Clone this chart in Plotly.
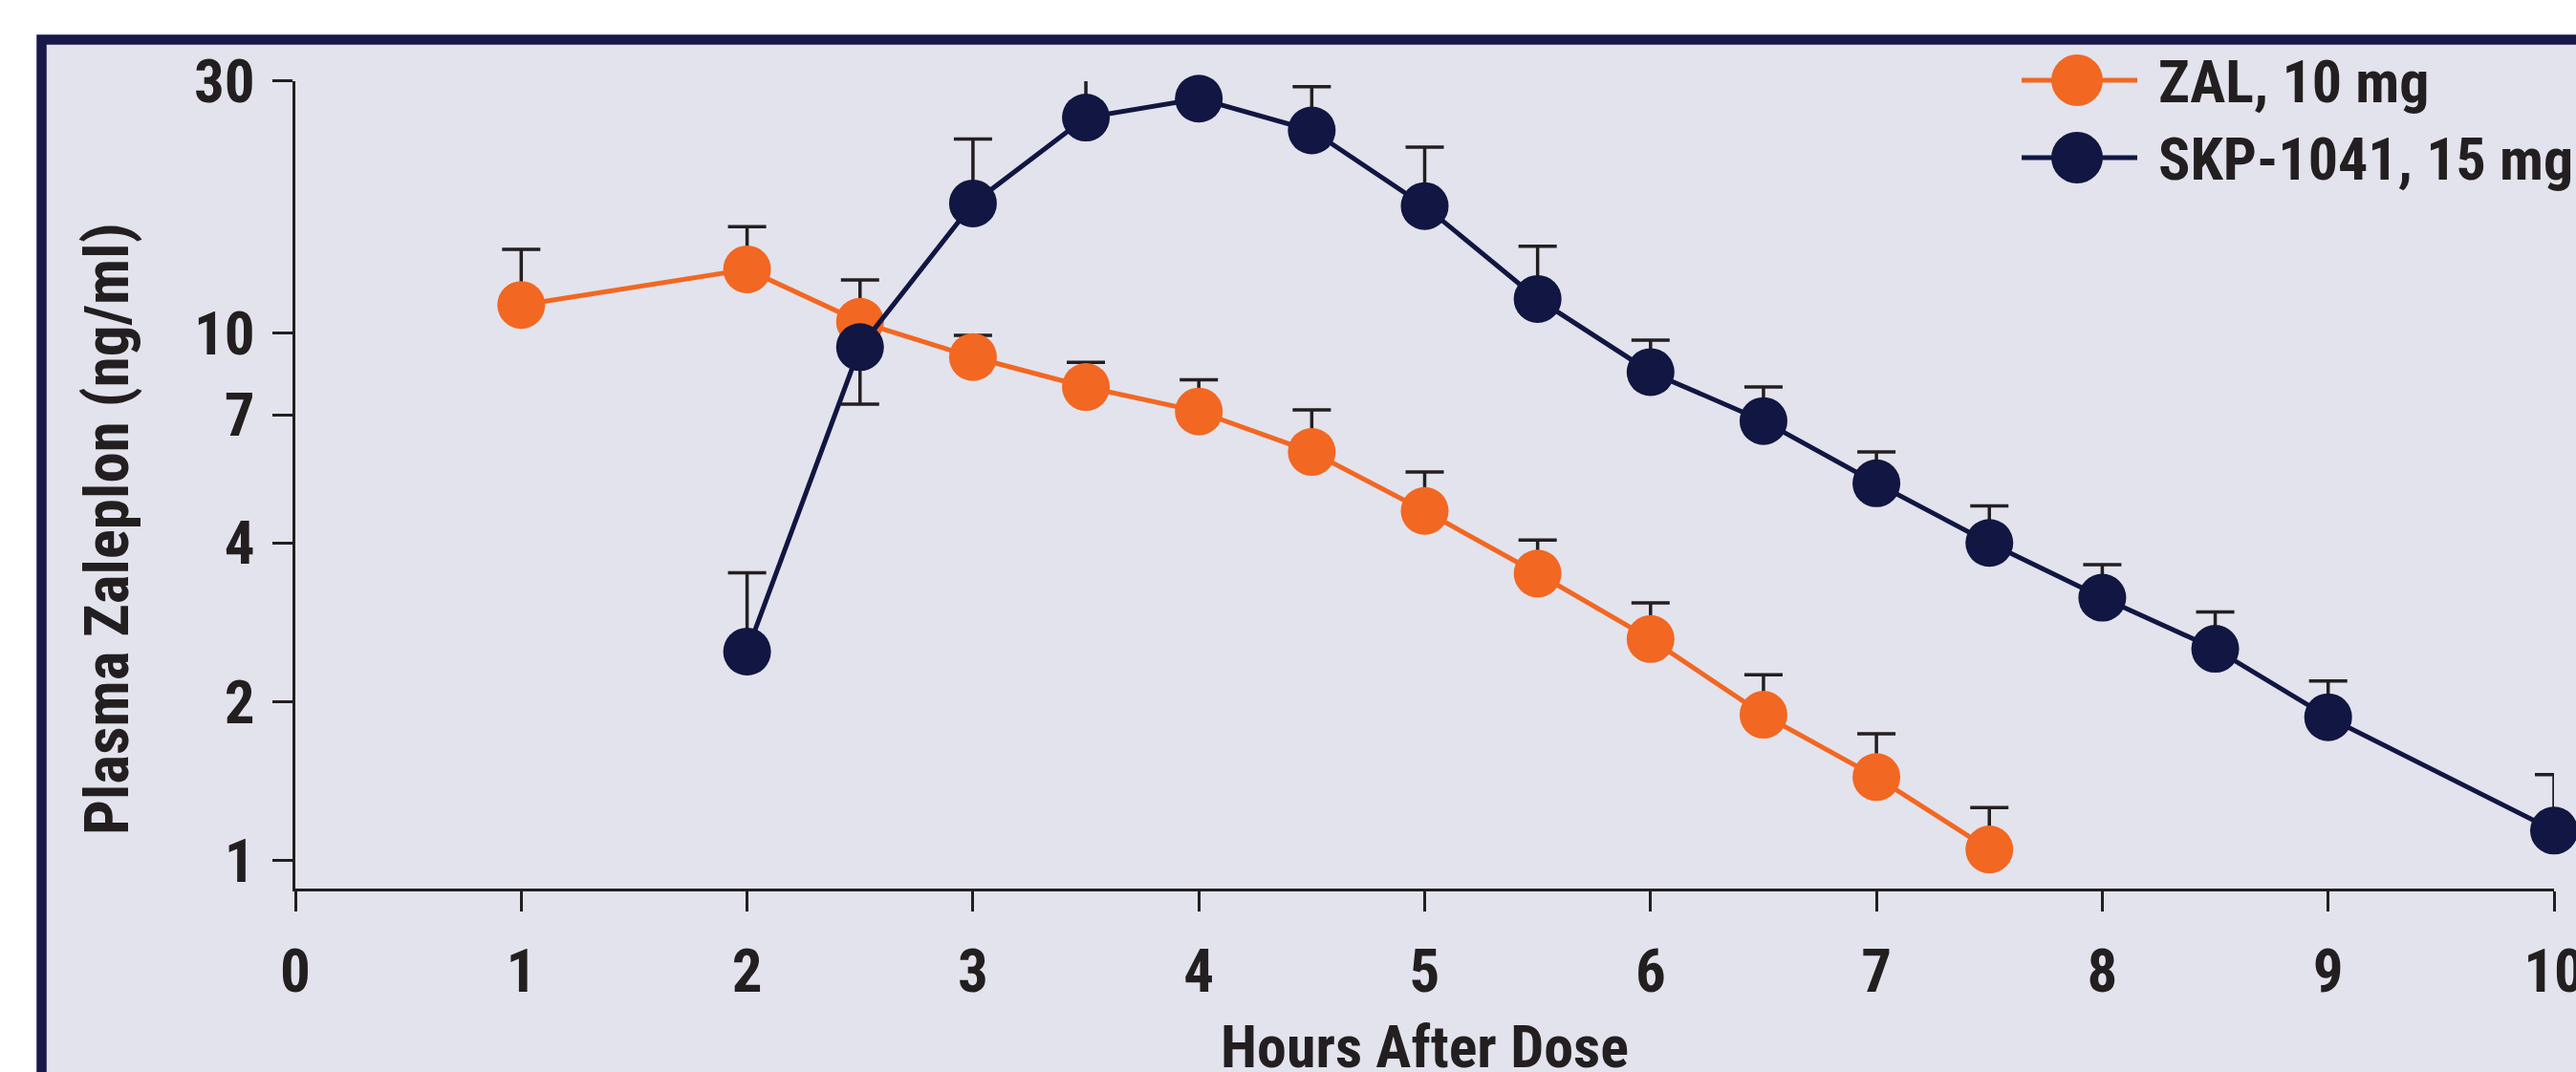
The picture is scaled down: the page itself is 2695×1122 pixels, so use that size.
import plotly.graph_objects as go

# ---- data (ng/ml, mean with one-sided SD bars) ----
zal_hours = [1, 2, 2.5, 3, 3.5, 4, 4.5, 5, 5.5, 6, 6.5, 7, 7.5]
zal_mean = [11.3, 13.2, 10.5, 9.0, 7.9, 7.1, 5.95, 4.6, 3.5, 2.63, 1.89, 1.44, 1.05]
zal_sd = [3.1, 2.7, 2.1, 0.9, 0.9, 1.05, 1.2, 0.85, 0.55, 0.45, 0.36, 0.30, 0.21]

skp_hours = [2, 2.5, 3, 3.5, 4, 4.5, 5, 5.5, 6, 6.5, 7, 7.5, 8, 8.5, 9, 10]
skp_mean = [2.49, 9.4, 17.6, 25.6, 27.8, 24.2, 17.4, 11.6, 8.43, 6.81, 5.19, 4.0, 3.15, 2.52, 1.87, 1.14]
skp_sd_up = [1.02, 0, 5.7, 5.6, 6.7, 5.1, 5.1, 3.0, 1.26, 1.09, 0.76, 0.70, 0.49, 0.44, 0.32, 0.315]
skp_sd_down = [0, 2.07, 0, 0, 0, 0, 0, 0, 0, 0, 0, 0, 0, 0, 0, 0]

series_names = ["ZAL, 10 mg", "SKP-1041, 15 mg"]
y_ticks = [1, 2, 4, 7, 10, 30]
x_ticks = list(range(0, 11))

# ---- styling ----
ORANGE = "#f26722"
NAVY = "#111642"
INK = "#231f20"
PANEL = "#e2e3ec"
FRAME = "#19184a"
FONT = "Liberation Sans Narrow, Roboto Condensed, Roboto, sans-serif"

W, H = 2695, 1122
ML, MR, MT, MB = 309, 23, 85, 192
PW, PH = W - ML - MR, H - MT - MB


def px_x(px):
    return (px - ML) / PW


def px_y(py):
    return (H - MB - py) / PH


err_style = dict(color=INK, thickness=3.5, width=20)

fig = go.Figure()
fig.add_trace(go.Scatter(
    x=zal_hours, y=zal_mean, name=series_names[0], mode="lines+markers",
    line=dict(color=ORANGE, width=5),
    marker=dict(color=ORANGE, size=50, line=dict(width=0)),
    error_y=dict(type="data", symmetric=False, array=zal_sd,
                 arrayminus=[0] * len(zal_sd), **err_style),
    cliponaxis=False, showlegend=False,
))
fig.add_trace(go.Scatter(
    x=skp_hours, y=skp_mean, name=series_names[1], mode="lines+markers",
    line=dict(color=NAVY, width=5),
    marker=dict(color=NAVY, size=50, line=dict(width=0)),
    error_y=dict(type="data", symmetric=False, array=skp_sd_up,
                 arrayminus=skp_sd_down, **err_style),
    cliponaxis=False, showlegend=False,
))

shapes = [
    # framed panel behind the chart
    dict(type="rect", xref="paper", yref="paper", layer="below",
         x0=px_x(43.5), x1=px_x(W + 60), y0=px_y(41.5), y1=px_y(H + 60),
         fillcolor=PANEL, line=dict(color=FRAME, width=10.5)),
]
annotations = [
    dict(text="<b>Plasma Zaleplon (ng/ml)</b>", textangle=-90,
         xref="paper", yref="paper", x=px_x(112), y=px_y(554),
         xanchor="center", yanchor="middle", showarrow=False,
         font=dict(family=FONT, size=65, color=INK)),
    dict(text="<b>Hours After Dose</b>",
         xref="paper", yref="paper", x=0.5, y=px_y(1095),
         xanchor="center", yanchor="middle", showarrow=False,
         font=dict(family=FONT, size=62, color=INK)),
]

# legend key: line segment, dot and label for each series
for name, color, cy in [(series_names[0], ORANGE, 84), (series_names[1], NAVY, 165)]:
    shapes.append(dict(type="line", xref="paper", yref="paper",
                       x0=px_x(2115), x1=px_x(2236), y0=px_y(cy), y1=px_y(cy),
                       line=dict(color=color, width=5)))
    shapes.append(dict(type="circle", xref="paper", yref="paper",
                       xsizemode="pixel", ysizemode="pixel",
                       xanchor=px_x(2173), yanchor=px_y(cy),
                       x0=-27, x1=27, y0=-27, y1=27,
                       fillcolor=color, line=dict(width=0)))
    annotations.append(dict(text="<b>" + name + "</b>", xref="paper", yref="paper",
                            x=px_x(2256), y=px_y(cy + 2), xanchor="left",
                            yanchor="middle", showarrow=False,
                            font=dict(family=FONT, size=62, color=INK)))

axis_common = dict(
    showline=True, linecolor=INK, linewidth=2.5, mirror=False,
    ticks="outside", ticklen=21, tickwidth=2.5, tickcolor=INK,
    showgrid=False, zeroline=False, automargin=False,
    tickfont=dict(family=FONT, size=63, color=INK),
)

fig.update_layout(
    width=W, height=H, autosize=False,
    margin=dict(l=ML, r=MR, t=MT, b=MB, pad=0),
    paper_bgcolor="white", plot_bgcolor="rgba(0,0,0,0)",
    font=dict(family=FONT, color=INK),
    xaxis=dict(range=[0, 10], tickmode="array", tickvals=x_ticks,
               ticktext=["<b>%d</b>" % v for v in x_ticks],
               ticklabelstandoff=9, ticklabeloverflow="allow", **axis_common),
    yaxis=dict(type="log", range=[-0.0529, 1.4771], tickmode="array",
               tickvals=y_ticks, ticktext=["<b>%d</b>" % v for v in y_ticks],
               ticklabelstandoff=6, **axis_common),
    shapes=shapes, annotations=annotations, showlegend=False,
)

fig.write_html("out.html")
